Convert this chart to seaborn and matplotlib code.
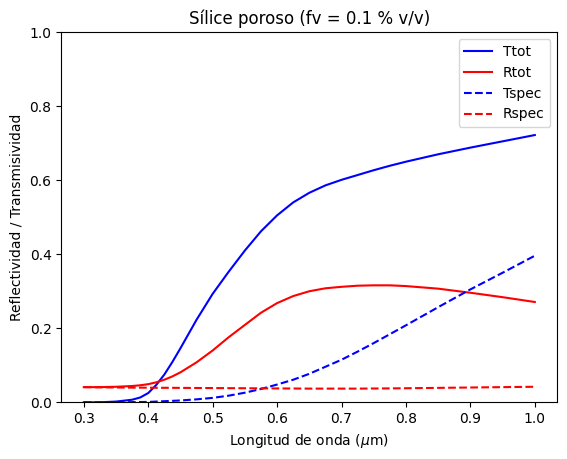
import numpy as np
import pandas as pd
import matplotlib
matplotlib.use("Agg")
import matplotlib.pyplot as plt
import seaborn as sns

# Wavelength (um)
wavelength = [0.3, 0.325, 0.35, 0.375, 0.3875, 0.4, 0.4125, 0.425, 0.4375, 0.45, 0.475,
              0.5, 0.525, 0.55, 0.575, 0.6, 0.625, 0.65, 0.675, 0.7, 0.725, 0.75,
              0.775, 0.8, 0.85, 0.9, 0.95, 1.0]

# Values
ttot = [0.0, 0.0, 0.002, 0.007, 0.013, 0.025, 0.047, 0.075, 0.109, 0.146, 0.223,
        0.293, 0.353, 0.410, 0.462, 0.505, 0.540, 0.566, 0.586, 0.601, 0.614, 0.627,
        0.639, 0.650, 0.670, 0.688, 0.705, 0.722]
rtot = [0.041, 0.041, 0.042, 0.044, 0.046, 0.049, 0.054, 0.061, 0.070, 0.081, 0.108,
        0.140, 0.176, 0.209, 0.242, 0.268, 0.287, 0.300, 0.308, 0.312, 0.315, 0.316,
        0.316, 0.314, 0.307, 0.296, 0.284, 0.271]
tspec = [0.0, 0.0, 0.0, 0.0005, 0.0008, 0.001, 0.002, 0.003, 0.004, 0.005, 0.008,
         0.012, 0.018, 0.026, 0.036, 0.048, 0.061, 0.077, 0.096, 0.115, 0.137, 0.160,
         0.184, 0.208, 0.257, 0.305, 0.350, 0.396]
rspec = [0.041, 0.0405, 0.040, 0.0397, 0.0396, 0.0395, 0.0393, 0.0392, 0.0391, 0.039, 0.0387,
         0.0385, 0.0382, 0.038, 0.0377, 0.0375, 0.0373, 0.037, 0.037, 0.037, 0.037, 0.0373,
         0.0376, 0.038, 0.039, 0.040, 0.041, 0.042]

series = [("Ttot", ttot, "blue", "-"),
          ("Rtot", rtot, "red", "-"),
          ("Tspec", tspec, "blue", "--"),
          ("Rspec", rspec, "red", "--")]

fig, ax = plt.subplots(figsize=(5.67, 4.59), dpi=100)
fig.subplots_adjust(left=0.108, right=0.983, top=0.930, bottom=0.1235)

for name, vals, color, ls in series:
    df = pd.DataFrame({"wl": wavelength, "val": vals})
    sns.lineplot(data=df, x="wl", y="val", color=color, linestyle=ls,
                 label=name, ax=ax)

ax.set_ylim(0, 1)
ax.set_xlabel(r"Longitud de onda ($\mu$m)")
ax.set_ylabel("Reflectividad / Transmisividad")
ax.set_title("Sílice poroso (fv = 0.1 % v/v)")
ax.legend(loc="upper right")

fig.savefig("out.png", dpi=100)
